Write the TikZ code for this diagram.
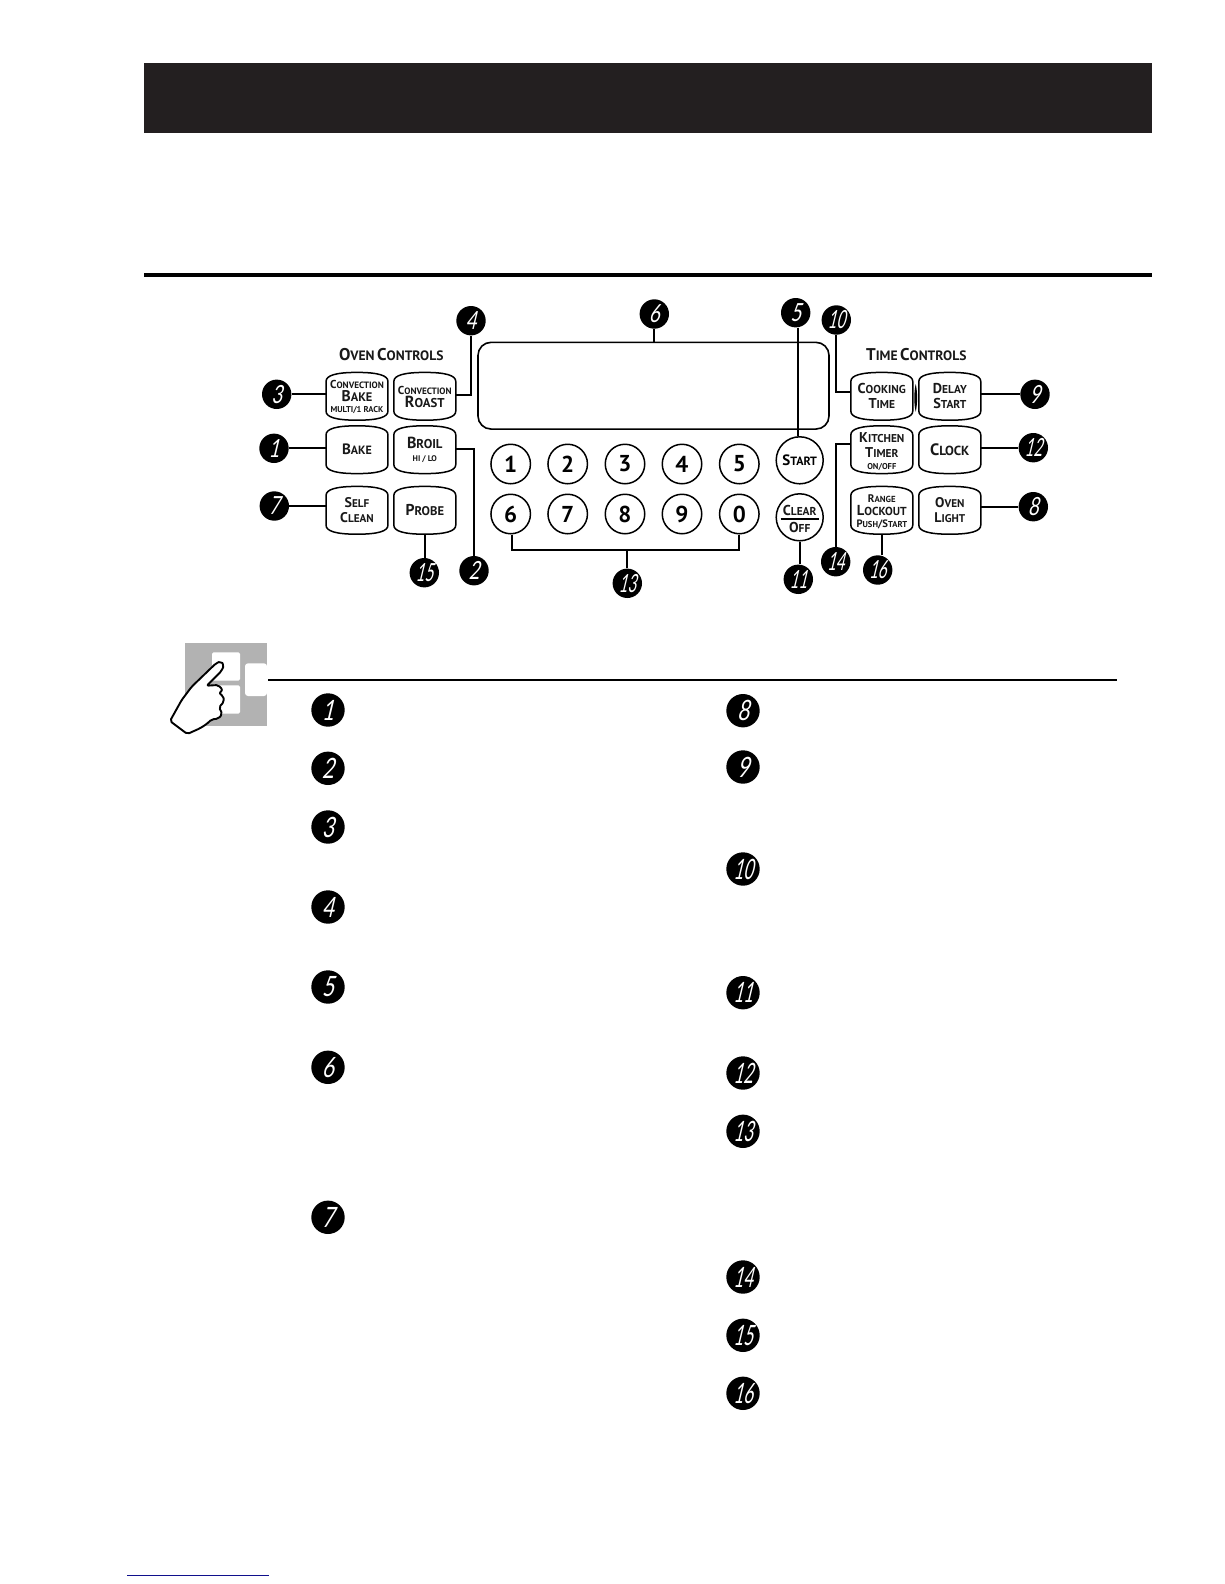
\documentclass[tikz,border=0pt]{standalone}
\usepackage{fontspec}
\setmainfont{PT Sans}
\newfontfamily\btnf{PT Sans}[BoldFont={PT Sans Bold}]
\newfontfamily\numf[FakeSlant=0.24,FakeStretch=0.74]{Lato}
\newfontfamily\numft[FakeSlant=0.24,FakeStretch=0.6]{Lato}
\definecolor{barcol}{HTML}{231F20}
\definecolor{linkcol}{HTML}{10108C}
\newcommand{\scx}[3]{{\fontsize{#1}{#1}\selectfont #2\fontsize{\fpeval{#1*0.8}}{#1}\selectfont #3}}
\newcommand{\btn}[5]{%
  \node[btnbox] (#1) at (#2,#3) {};
  \draw[btnline,fill=white] ([yshift=-9pt]#1.north west)
    .. controls ([yshift=-3pt]#1.north west) and ([xshift=10pt]#1.north west) .. (#1.north)
    .. controls ([xshift=-10pt]#1.north east) and ([yshift=-3pt]#1.north east) .. ([yshift=-9pt]#1.north east)
    -- ([yshift=9pt]#1.south east)
    .. controls ([yshift=3pt]#1.south east) and ([xshift=-10pt,yshift=0pt]#1.south east) .. (#1.south)
    .. controls ([xshift=10pt,yshift=0pt]#1.south west) and ([yshift=3pt]#1.south west) .. ([yshift=9pt]#1.south west)
    -- cycle;
  \node[btntext] (#1t) at (#2,#3+#4) {#5};}
\tikzset{
  btnbox/.style={minimum width=61.5pt,minimum height=47.4pt,inner sep=0pt,draw=none},
  btnline/.style={line width=1.5pt,draw=black},
  btntext/.style={align=center,inner sep=0pt,font=\btnf\bfseries\fontsize{10}{14}\selectfont,text=black!90},
  conn/.style={line width=1.9pt,draw=black},
  callout/.style={circle,fill=black,minimum size=29.4pt,inner sep=0pt,text=white,font=\numf\fontsize{25}{25}\selectfont},
  calloutw/.style={callout,font=\numft\fontsize{25}{25}\selectfont},
  listnum/.style={circle,fill=black,minimum size=33.4pt,inner sep=0pt,text=white,font=\numf\fontsize{28}{28}\selectfont},
  listnumw/.style={listnum,font=\numft\fontsize{28}{28}\selectfont},
  keypad/.style={circle,draw=black,line width=1.5pt,fill=white,minimum size=39.5pt,inner sep=0pt,font=\btnf\bfseries\fontsize{23}{23}\selectfont},
  roundkey/.style={circle,draw=black,line width=1.5pt,fill=white,minimum size=47pt,inner sep=0pt,font=\btnf\bfseries\fontsize{10}{14}\selectfont},
  title/.style={inner sep=0pt,font=\btnf\bfseries,text=black!90}
}
\begin{document}
\begin{tikzpicture}[x=1pt,y=-1pt]
\useasboundingbox (0,0) rectangle (1224,1584);
% header
\fill[barcol] (144,63) rectangle (1152,133);
\fill[black] (144,272.7) rectangle (1152,277);
% display
\node[draw=black,line width=1.6pt,rounded corners=13pt,minimum width=351pt,minimum height=86.7pt,inner sep=0pt] (disp) at (653.5,385.7) {};
% titles
\node[title] (oven) at (391.3,354.3) {\scx{17}{O}{VEN} \scx{17}{C}{ONTROLS}};
\node[title] (time) at (916.3,354.3) {\scx{17}{T}{IME} \scx{17}{C}{ONTROLS}};
% buttons
\btn{bcb}{357}{396.3}{1}{\scx{11.5}{C}{ONVECTION}\\[-1.5pt]\scx{15.5}{B}{AKE}\\[-2.5pt]\fontsize{8.5}{10}\selectfont MULTI/1 RACK}
\btn{bcr}{424.8}{396.3}{0.5}{\scx{11.5}{C}{ONVECTION}\\[-1pt]\scx{16}{R}{OAST}}
\btn{bbake}{357}{449.7}{0}{\scx{15}{B}{AKE}}
\btn{bbroil}{424.8}{449.7}{0}{\scx{16}{B}{ROIL}\\[-1pt]\fontsize{8.2}{10}\selectfont HI / LO}
\btn{bself}{357}{510.3}{0}{\scx{14}{S}{ELF}\\[.5pt]\scx{14}{C}{LEAN}}
\btn{bprobe}{424.8}{510.3}{0}{\scx{15.7}{P}{ROBE}}
\btn{bcook}{881.8}{396.3}{0}{\scx{14.3}{C}{OOKING}\\[1pt]\scx{14.3}{T}{IME}}
\btn{bdelay}{949.8}{396.3}{0}{\scx{14.3}{D}{ELAY}\\[1pt]\scx{14.3}{S}{TART}}
\btn{bkit}{881.8}{449.7}{1.5}{\scx{14.2}{K}{ITCHEN}\\[1pt]\scx{14.2}{T}{IMER}\\[-2pt]\fontsize{8.5}{10}\selectfont ON/OFF}
\btn{bclock}{949.8}{449.7}{0}{\scx{16.5}{C}{LOCK}}
\btn{brange}{881.8}{510.3}{2}{\scx{11}{R}{ANGE}\\[-1.5pt]\scx{14.5}{L}{OCKOUT}\\[-1.5pt]\scx{10.7}{P}{USH}\fontsize{10.7}{10}\selectfont /\scx{10.7}{S}{TART}}
\btn{blight}{949.8}{510.3}{0}{\scx{14}{O}{VEN}\\[.5pt]\scx{14}{L}{IGHT}}
% separator
\fill[black] (915.7,384) .. controls (917.6,392) and (917.6,404) .. (915.7,411.7) .. controls (913.8,404) and (913.8,392) .. (915.7,384) -- cycle;
% keypad
\node[keypad] (k1) at (510.7,464) {1};
\node[keypad] (k2) at (567.7,464) {2};
\node[keypad] (k3) at (625,464) {3};
\node[keypad] (k4) at (682,464) {4};
\node[keypad] (k5) at (739.3,464) {5};
\node[keypad] (k6) at (510.7,514) {6};
\node[keypad] (k7) at (567.7,514) {7};
\node[keypad] (k8) at (625,514) {8};
\node[keypad] (k9) at (682,514) {9};
\node[keypad] (k0) at (739.3,514) {0};
\node[roundkey] (start) at (799.7,460.3) {\scx{15}{S}{TART}};
\node[roundkey] (clear) at (799.7,517.3) {};
\node[btntext] (cleart) at (799.7,510) {\scx{14.3}{C}{LEAR}};
\node[btntext] (offt) at (799.7,527) {\scx{14.3}{O}{FF}};
\draw[line width=2.2pt] (clear.center) ++(-19,1.4) -- ++(38,0);
% callouts
\node[callout] (c3) at (276.7,394.3) {3};
\node[callout] (c1) at (274,448.3) {1};
\node[callout] (c7) at (274.3,506) {7};
\node[callout] (c4) at (471,320.7) {4};
\node[calloutw] (c15) at (424.3,572.7) {15};
\node[callout] (c2) at (474,570.7) {2};
\node[calloutw] (c13) at (627.3,583.3) {13};
\node[callout] (c6) at (654.3,314) {6};
\node[callout] (c5) at (795.7,312.7) {5};
\node[calloutw] (c10) at (836.3,320) {10};
\node[callout] (c9) at (1035,394.3) {9};
\node[calloutw] (c12) at (1033.3,447.7) {12};
\node[callout] (c8) at (1033.3,506.7) {8};
\node[calloutw] (c11) at (798.3,579.3) {11};
\node[calloutw] (c14) at (835.7,561.7) {14};
\node[calloutw] (c16) at (877.7,570) {16};
% connectors
\draw[conn] (c3.east) -- (c3.east -| bcb.west);
\draw[conn] (c1.east) -- (c1.east -| bbake.west);
\draw[conn] (c7.east) -- (c7.east -| bself.west);
\draw[conn] ([yshift=1.6pt]bcr.east) -| (c4.south);
\draw[conn] ([yshift=.7pt]bbroil.east) -| (c2.north);
\draw[conn] (bprobe.south) -- (bprobe.south |- c15.north);
\draw[conn] (c6.south) -- (c6.south |- disp.north);
\draw[conn] ([xshift=2.3pt]c5.south) -- ([xshift=2.3pt]c5.south |- start.north);
\draw[conn] (c10.south) |- ([yshift=4.6pt]bcook.west);
\draw[conn] (c9.west) -- (c9.west -| bdelay.east);
\draw[conn] (c12.west) -- (c12.west -| bclock.east);
\draw[conn] (c8.west) -- (c8.west -| blight.east);
\draw[conn] (clear.south) -- (clear.south |- c11.north);
\draw[conn] ([yshift=6pt]bkit.west) -| (c14.north);
\draw[conn] (brange.south) -- (brange.south |- c16.north);
\draw[conn] ([xshift=1.6pt]k6.south) |- (k0.south |- 0,549.7) -- (k0.south);
\draw[conn] (c13.north) -- (c13.north |- 0,549.7);
% hand block
\fill[black!30] (185,642.7) rectangle (267,725.7);
\fill[white,rounded corners=1.5pt] (212,652.3) rectangle (240,680.7);
\fill[white,rounded corners=1.5pt] (212,685.3) rectangle (240,713.7);
\fill[white,rounded corners=3pt] (245,663.3) -- (267,663.3) -- (267,696) -- (245,696) -- cycle;
\draw[line width=1.9pt,fill=white,line join=round,rounded corners=2pt]
 (170,721) -- (187.3,734) -- (200,728.3) -- (206.7,724) -- (211.7,719.3) -- (218.3,718.7) -- (222.3,714) -- (219,707.3) -- (224,701.7) -- (223.3,696) -- (219,693.3) -- (222.7,690) -- (218.3,685) -- (206.7,685.7) -- (221.7,670.7) -- (224,665) -- (220.7,661.3) -- (216,663.3) -- (191.7,686.7) -- (181.7,700) -- cycle;
\coordinate (rs) at (268.3,680);
\coordinate (re) at (1116.7,680);
\draw[line width=2pt] (rs) -- (re);
% list
\node[listnum] (l1) at (328,710) {1};
\node[listnum] (l2) at (328,768.3) {2};
\node[listnum] (l3) at (328,827) {3};
\node[listnum] (l4) at (328,907) {4};
\node[listnum] (l5) at (328,987) {5};
\node[listnum] (l6) at (328,1067.3) {6};
\node[listnum] (l7) at (328,1217.3) {7};
\node[listnum] (l8) at (743,710.7) {8};
\node[listnum] (l9) at (743,767) {9};
\node[listnumw] (l10) at (743,869) {10};
\node[listnumw] (l11) at (743,992.7) {11};
\node[listnumw] (l12) at (743,1073) {12};
\node[listnumw] (l13) at (743,1131.3) {13};
\node[listnumw] (l14) at (743,1277) {14};
\node[listnumw] (l15) at (743,1335.3) {15};
\node[listnumw] (l16) at (743,1393.3) {16};
% footer link line
\coordinate (fs) at (127,1575.3);
\coordinate (fe) at (269,1575.3);
\draw[line width=1.3pt,draw=linkcol] (fs) -- (fe);
\end{tikzpicture}
\end{document}
